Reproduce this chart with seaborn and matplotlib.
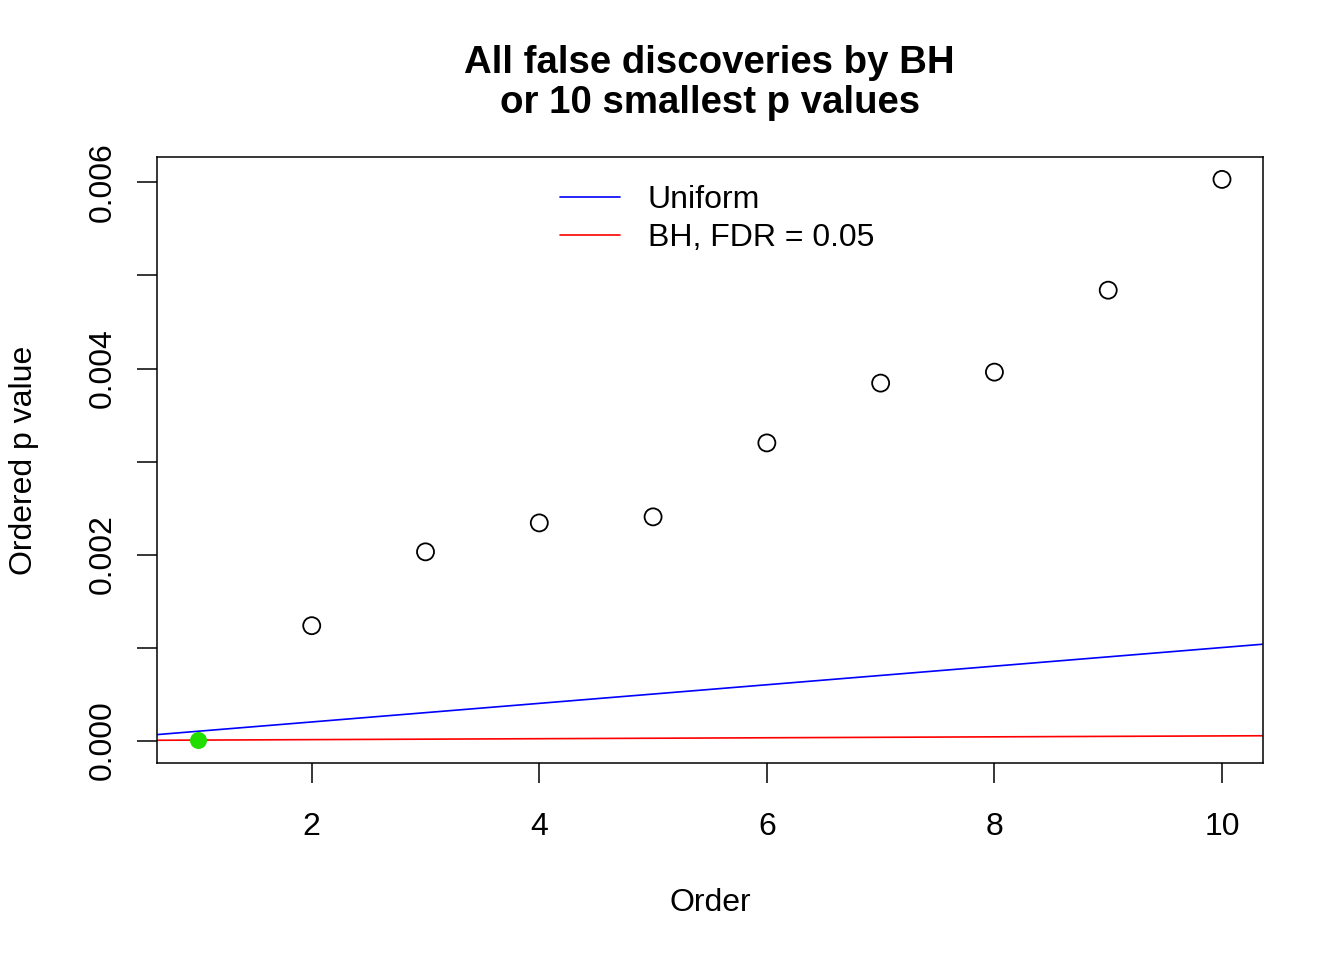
import numpy as np
import pandas as pd
import seaborn as sns
import matplotlib.pyplot as plt
from matplotlib.lines import Line2D

# data
order = [1, 2, 3, 4, 5, 6, 7, 8, 9, 10]
p_values = [0.000001, 0.001235, 0.002029, 0.00234, 0.002405,
            0.0032, 0.003843, 0.003961, 0.004842, 0.006033]
discovered = [True, False, False, False, False, False, False, False, False, False]
n_tests = 10000
fdr = 0.05
y_ticks = [0.0, 0.001, 0.002, 0.003, 0.004, 0.005, 0.006]

sns.set_theme(style="ticks")
plt.rcParams['font.family'] = ['Liberation Sans', 'DejaVu Sans']
plt.rcParams['text.color'] = 'black'
plt.rcParams['axes.labelcolor'] = 'black'
plt.rcParams['xtick.color'] = 'black'
plt.rcParams['ytick.color'] = 'black'

FS = 23

df = pd.DataFrame({'order': order, 'p': p_values, 'disc': discovered})

fig = plt.figure(figsize=(13.44, 9.6), dpi=100)
ax = fig.add_axes([0.1168, 0.2052, 0.8229, 0.6313])

sns.scatterplot(data=df[~df['disc']], x='order', y='p', ax=ax, s=150,
                facecolors='none', edgecolor='black', linewidth=1.3, legend=False)
sns.scatterplot(data=df[df['disc']], x='order', y='p', ax=ax, s=150,
                color='#22dd00', edgecolor='#22dd00', linewidth=0, legend=False, zorder=5)

# reference lines: uniform and BH threshold
ax.axline((0, 0), slope=1 / n_tests, color='blue', lw=1.2)
ax.axline((0, 0), slope=fdr / n_tests, color='red', lw=1.2)

xmin, xmax = min(order), max(order)
ymin, ymax = 0.0, max(p_values)
ax.set_xlim(xmin - 0.04 * (xmax - xmin), xmax + 0.04 * (xmax - xmin))
ax.set_ylim(ymin - 0.04 * (ymax - ymin), ymax + 0.04 * (ymax - ymin))

ax.set_xticks([2, 4, 6, 8, 10])
ax.set_xticklabels(['2', '4', '6', '8', '10'])
ax.set_yticks(y_ticks)
ax.set_yticklabels([f'{v:.3f}' if i % 2 == 0 else '' for i, v in enumerate(y_ticks)],
                   rotation=90, va='center')
ax.tick_params(axis='both', length=14.4, width=1.1, labelsize=FS, color='black')
ax.tick_params(axis='x', pad=21)
ax.tick_params(axis='y', pad=14)
for sp in ax.spines.values():
    sp.set_linewidth(1.1)
    sp.set_color('black')

ax.set_xlabel('Order', fontsize=FS, va='center')
ax.xaxis.set_label_coords(0.5, -0.231)
ax.set_ylabel('Ordered p value', fontsize=FS, va='center')
ax.yaxis.set_label_coords(-0.1202, 0.5)

fig.text(0.528, 0.9135, 'All false discoveries by BH\nor 10 smallest p values',
         fontsize=27.6, fontweight='bold', ha='center', va='center',
         linespacing=1.12)

handles = [Line2D([0], [0], color='blue', lw=1.2),
           Line2D([0], [0], color='red', lw=1.2)]
ax.legend(handles, ['Uniform', 'BH, FDR = 0.05'], loc='upper left',
          frameon=False, fontsize=FS, handlelength=1.88, handletextpad=0.87,
          labelspacing=0.24, bbox_to_anchor=(0.3644, 0.953), borderpad=0,
          borderaxespad=0)

fig.savefig('out.png', dpi=100)
